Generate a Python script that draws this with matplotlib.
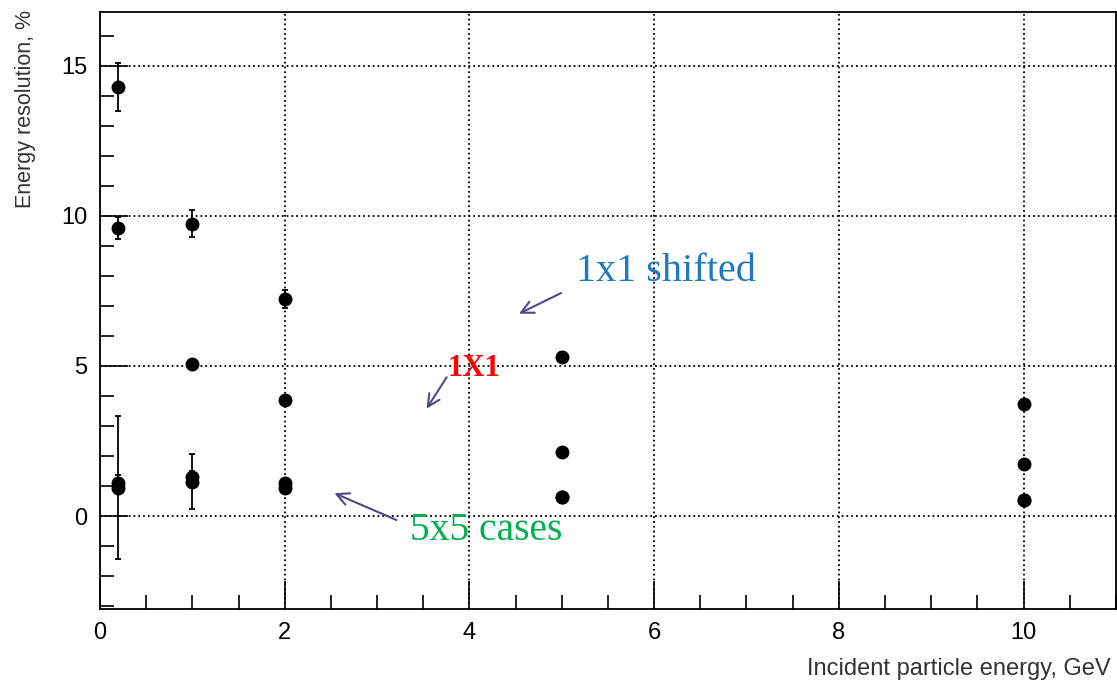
import matplotlib
matplotlib.use("Agg")
import matplotlib.pyplot as plt
from matplotlib.ticker import MultipleLocator

# incident energies, GeV
energy = [0.2, 1, 2, 5, 10]

# 1x1 shifted
res_1x1_shift = [14.3, 9.73, 7.23, 5.3, 3.73]
err_1x1_shift = [0.8, 0.45, 0.3, 0.15, 0.1]
# 1x1
res_1x1 = [9.6, 5.05, 3.85, 2.13, 1.73]
err_1x1 = [0.37, 0.1, 0.1, 0.1, 0.05]
# 5x5 cases
res_5x5_a = [1.1, 1.3, 1.1, 0.65, 0.55]
err_5x5_a = [0.27, 0.2, 0.1, 0.05, 0.05]
res_5x5_b = [0.95, 1.15, 0.95, 0.62, 0.52]
err_5x5_b = [2.38, 0.92, 0.1, 0.05, 0.05]

plt.rcParams['font.family'] = ['Liberation Sans', 'DejaVu Sans']

fig = plt.figure(figsize=(11.17, 6.86), dpi=100)
ax = fig.add_axes([0.0895, 0.112, 0.9095, 0.871])

for y, e in [(res_1x1_shift, err_1x1_shift), (res_1x1, err_1x1),
             (res_5x5_a, err_5x5_a), (res_5x5_b, err_5x5_b)]:
    ax.errorbar(energy, y, yerr=e, fmt='o', color='black', ms=9,
                elinewidth=1.3, capsize=2.5, capthick=1.3, zorder=3)

ax.set_xlim(0, 11)
ax.set_ylim(-3.1, 16.8)
ax.xaxis.set_major_locator(MultipleLocator(2))
ax.xaxis.set_minor_locator(MultipleLocator(0.5))
ax.yaxis.set_major_locator(MultipleLocator(5))
ax.yaxis.set_minor_locator(MultipleLocator(1))
ax.tick_params(which='both', direction='in', top=False, right=False,
               labelsize=17, width=1.2)
ax.tick_params(which='major', length=20, pad=9)
ax.tick_params(which='minor', length=10)
ax.grid(True, which='major', linestyle=':', color='black', linewidth=1.3)
for s in ax.spines.values():
    s.set_linewidth(1.3)

fig.text(0.994, 0.025, 'Incident particle energy, GeV', ha='right',
         va='center', fontsize=17, color='#333333')
fig.text(0.023, 0.985, 'Energy resolution, %', ha='center', va='top',
         rotation=90, fontsize=15.5, color='#333333')

arrow = dict(arrowstyle='->', color='#4b4b8a', lw=1.5, mutation_scale=22)
ax.annotate('', xy=(4.51, 6.7), xytext=(5.02, 7.47), arrowprops=arrow)
ax.annotate('', xy=(3.52, 3.5), xytext=(3.77, 4.7), arrowprops=arrow)
ax.annotate('', xy=(2.51, 0.8), xytext=(3.24, -0.17), arrowprops=arrow)

ax.text(6.13, 8.13, '1x1 shifted', color='#1f78c1', fontsize=29,
        family='Liberation Serif', ha='center', va='center')
ax.text(4.05, 4.93, '1X1', color='red', fontsize=22, fontweight='bold',
        family='Liberation Serif', ha='center', va='center')
ax.text(4.18, -0.47, '5x5 cases', color='#00b04f', fontsize=28.5,
        family='Liberation Serif', ha='center', va='center')

fig.savefig('out.png', dpi=100)
